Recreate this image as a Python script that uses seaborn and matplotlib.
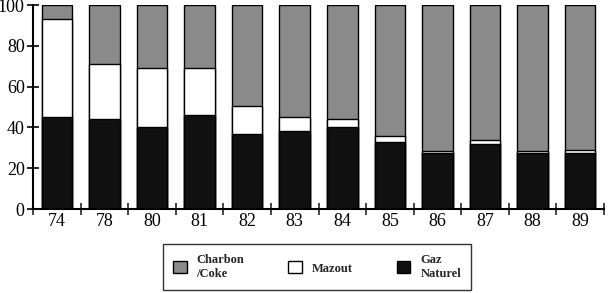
import numpy as np
import pandas as pd
import matplotlib
matplotlib.use("Agg")
import matplotlib.pyplot as plt
import seaborn as sns
from matplotlib.patches import Patch

# Données (%)
annees = ["74", "78", "80", "81", "82", "83", "84", "85", "86", "87", "88", "89"]
gaz_naturel = [45, 44, 40, 46, 37, 38, 40, 33, 27.5, 32, 27.5, 27.5]
mazout = [48, 27, 29, 23, 13.5, 7, 4, 3, 1, 2, 1, 1.5]
charbon_coke = [7, 29, 31, 31, 49.5, 55, 56, 64, 71.5, 66, 71.5, 71]

sns.set_theme(style="white")
plt.rcParams["font.family"] = ["Liberation Serif", "DejaVu Serif"]

df = pd.DataFrame({
    "annee": annees,
    "gaz": gaz_naturel,
    "gaz_mazout": np.array(gaz_naturel) + np.array(mazout),
    "total": np.array(gaz_naturel) + np.array(mazout) + np.array(charbon_coke),
})

fig = plt.figure(figsize=(6.09, 2.93), dpi=100)
ax = fig.add_axes([33 / 609, 1 - 209 / 293, 571 / 609, 204 / 293])

couleurs = {"total": "#8a8a8a", "gaz_mazout": "white", "gaz": "#111111"}
for col in ["total", "gaz_mazout", "gaz"]:
    sns.barplot(data=df, x="annee", y=col, color=couleurs[col], saturation=1,
                width=0.64, edgecolor="black", linewidth=1.0, ax=ax)

ax.set_xlim(-0.5, len(annees) - 0.5)
ax.set_ylim(0, 100)
ax.set_xlabel("")
ax.set_ylabel("")
ax.set_yticks([0, 20, 40, 60, 80, 100])
ax.tick_params(axis="y", direction="inout", length=8, width=1.2, labelsize=13,
               left=True, pad=2, colors="black")
ax.set_xticks(range(len(annees)))
ax.set_xticklabels(annees)
ax.set_xticks(np.arange(-0.5, len(annees)), minor=True)
ax.tick_params(axis="x", which="major", length=0, labelsize=13, pad=3, colors="black")
ax.tick_params(axis="x", which="minor", direction="inout", length=8, width=1.2,
               bottom=True)
for s in ["top", "right"]:
    ax.spines[s].set_visible(False)
for s in ["left", "bottom"]:
    ax.spines[s].set_color("black")
    ax.spines[s].set_linewidth(1.5)

handles = [
    Patch(facecolor="#8a8a8a", edgecolor="black", label="Charbon\n/Coke"),
    Patch(facecolor="white", edgecolor="black", label="Mazout"),
    Patch(facecolor="#111111", edgecolor="black", label="Gaz\nNaturel"),
]
leg = fig.legend(handles=handles, loc="center", bbox_to_anchor=(317 / 609, 1 - 267 / 293),
                 ncol=3, frameon=True, fancybox=False, edgecolor="black",
                 prop={"size": 9, "weight": "bold"}, handlelength=1.1, handleheight=1.1,
                 columnspacing=3.5, borderpad=0.8)
leg.get_frame().set_linewidth(1.0)

fig.savefig("out.png", dpi=100)
